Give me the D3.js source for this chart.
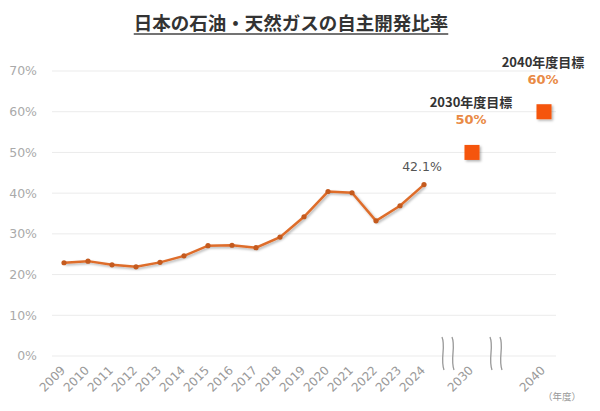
<!DOCTYPE html>
<html>
<head>
<meta charset="utf-8">
<script src="https://cdn.jsdelivr.net/npm/d3@7"></script>
<style>
  body { margin: 0; background: #fff; }
  svg { display: block; }
</style>
</head>
<body>
<div id="chart"></div>
<script>
// 自主開発比率（%）
const years = ["2009", "2010", "2011", "2012", "2013", "2014", "2015", "2016",
  "2017", "2018", "2019", "2020", "2021", "2022", "2023", "2024"];
const ratios = [22.9, 23.3, 22.4, 21.9, 23.0, 24.6, 27.1, 27.2,
  26.6, 29.2, 34.2, 40.4, 40.1, 33.2, 36.9, 42.1];

// 目標値
const targetYears = ["2030", "2040"];
const targetValues = [50, 60];
const targetLabels = ["2030年度目標", "2040年度目標"];

// x軸のスロット（空き・省略記号を含む）
const slots = [...years, "gap1", "2030", "gap2", "gap3", "2040"];
const breakSlots = ["gap1", "gap2"];
const yTicks = [0, 10, 20, 30, 40, 50, 60, 70];

const title = "日本の石油・天然ガスの自主開発比率";
const width = 600, height = 411;
const margin = { top: 71, right: 44, bottom: 55, left: 52 };
const jp = "'Noto Sans CJK JP', sans-serif";
const num = "'DejaVu Sans', sans-serif";

const svg = d3.select("#chart").append("svg")
  .attr("width", width).attr("height", height);

const defs = svg.append("defs");
const shadow = defs.append("filter").attr("id", "shadow")
  .attr("x", "-50%").attr("y", "-50%").attr("width", "200%").attr("height", "200%");
shadow.append("feDropShadow")
  .attr("dx", 1.5).attr("dy", 1.5).attr("stdDeviation", 1.2)
  .attr("flood-color", "#000").attr("flood-opacity", 0.3);

const x = d3.scaleBand()
  .domain(slots)
  .range([margin.left, width - margin.right]);

const y = d3.scaleLinear()
  .domain([0, 70])
  .range([height - margin.bottom, margin.top]);

const cx = (d) => x(d) + x.bandwidth() / 2;

// タイトル
const t = svg.append("text")
  .attr("x", 291).attr("y", 30)
  .attr("text-anchor", "middle")
  .style("font-family", jp)
  .style("font-size", "18.5px")
  .style("font-weight", "bold")
  .style("fill", "#333")
  .text(title);
const tb = t.node().getBBox();
svg.append("line")
  .attr("x1", tb.x).attr("x2", tb.x + tb.width)
  .attr("y1", 34).attr("y2", 34)
  .attr("stroke", "#444").attr("stroke-width", 1.5);

// 横グリッド
svg.append("g")
  .selectAll("line")
  .data(yTicks)
  .join("line")
  .attr("x1", margin.left).attr("x2", width - margin.right)
  .attr("y1", (d) => y(d)).attr("y2", (d) => y(d))
  .attr("stroke", "#ebebeb").attr("stroke-width", 1);

// y軸ラベル
svg.append("g")
  .selectAll("text")
  .data(yTicks)
  .join("text")
  .attr("x", 37).attr("y", (d) => y(d))
  .attr("dy", "0.35em")
  .attr("text-anchor", "end")
  .style("font-family", num)
  .style("font-size", "12.5px")
  .style("fill", "#aaa")
  .text((d) => d + "%");

// x軸ラベル（斜め）
const xLabels = [...years, ...targetYears];
svg.append("g")
  .selectAll("text")
  .data(xLabels)
  .join("text")
  .attr("transform", (d) => `translate(${cx(d) + 2},${height - margin.bottom + 15}) rotate(-45)`)
  .attr("text-anchor", "end")
  .style("font-family", num)
  .style("font-size", "12px")
  .style("fill", "#999")
  .text((d) => d);

svg.append("text")
  .attr("x", 581).attr("y", 400)
  .attr("text-anchor", "end")
  .style("font-family", jp)
  .style("font-size", "9.5px")
  .style("fill", "#999")
  .text("（年度）");

// 省略記号
const breakY0 = y(0) - 19, breakY1 = y(0) + 14;
breakSlots.forEach((s) => {
  [-5, 5].forEach((off) => {
    const bx = cx(s) + off;
    svg.append("path")
      .attr("d", `M${bx - 1},${breakY0} C${bx + 3},${breakY0 + 10} ${bx - 3},${breakY1 - 12} ${bx + 1},${breakY1}`)
      .attr("fill", "none")
      .attr("stroke", "#999")
      .attr("stroke-width", 1.3);
  });
});

// 実績の折れ線
const series = years.map((yr, i) => ({ year: yr, value: ratios[i] }));
const line = d3.line()
  .x((d) => cx(d.year))
  .y((d) => y(d.value));

svg.append("path")
  .datum(series)
  .attr("fill", "none")
  .attr("stroke", "#de6d2c")
  .attr("stroke-width", 2.5)
  .attr("filter", "url(#shadow)")
  .attr("d", line);

svg.append("g")
  .selectAll("circle")
  .data(series)
  .join("circle")
  .attr("cx", (d) => cx(d.year))
  .attr("cy", (d) => y(d.value))
  .attr("r", 2.6)
  .attr("fill", "#c45a1e");

const last = series[series.length - 1];
svg.append("text")
  .attr("x", cx(last.year) - 2).attr("y", y(last.value) - 14)
  .attr("text-anchor", "middle")
  .style("font-family", num)
  .style("font-size", "12.5px")
  .style("fill", "#555")
  .text(last.value.toFixed(1) + "%");

// 目標値
const targets = targetYears.map((yr, i) => ({ year: yr, value: targetValues[i], label: targetLabels[i] }));
const sq = 15;
svg.append("g")
  .selectAll("rect")
  .data(targets)
  .join("rect")
  .attr("x", (d) => cx(d.year) - sq / 2)
  .attr("y", (d) => y(d.value) - sq / 2)
  .attr("width", sq).attr("height", sq)
  .attr("fill", "#f5540c")
  .attr("filter", "url(#shadow)");

svg.append("g")
  .selectAll("text")
  .data(targets)
  .join("text")
  .attr("x", (d) => cx(d.year) - 1)
  .attr("y", (d) => y(d.value) - 45)
  .attr("text-anchor", "middle")
  .style("font-family", jp)
  .style("font-size", "13px")
  .style("font-weight", "bold")
  .style("fill", "#333")
  .text((d) => d.label);

svg.append("g")
  .selectAll("text")
  .data(targets)
  .join("text")
  .attr("x", (d) => cx(d.year) - 1)
  .attr("y", (d) => y(d.value) - 28)
  .attr("text-anchor", "middle")
  .style("font-family", num)
  .style("font-size", "13px")
  .style("font-weight", "bold")
  .style("fill", "#e98a45")
  .text((d) => d.value + "%");
</script>
</body>
</html>
